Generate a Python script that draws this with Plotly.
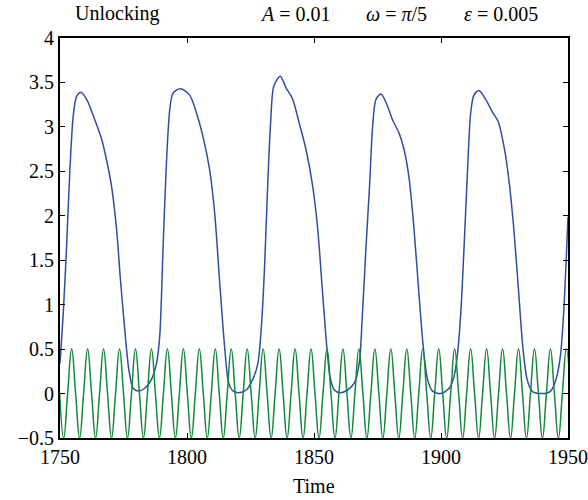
import plotly.graph_objects as go

# Blue response curve
blue_time = [1750.0, 1751.3, 1752.6, 1753.9, 1755.2, 1756.5, 1758.2, 1760.5, 1763.7, 1766.4,
             1768.3, 1770.3, 1772.3, 1773.8, 1775.5, 1777.1, 1778.8, 1780.8, 1783.4, 1786.0,
             1788.0, 1789.3, 1790.6, 1791.9, 1793.2, 1794.5, 1797.4, 1801.0, 1803.7, 1806.3,
             1808.9, 1810.9, 1812.8, 1814.8, 1816.4, 1818.1, 1820.3, 1823.3, 1825.9, 1827.9,
             1829.2, 1830.5, 1831.6, 1832.9, 1834.2, 1836.7, 1839.0, 1841.6, 1844.2, 1846.9,
             1849.5, 1851.5, 1853.0, 1854.7, 1856.3, 1858.0, 1860.4, 1863.2, 1865.9, 1867.8,
             1869.1, 1870.5, 1871.8, 1873.2, 1874.4, 1876.4, 1879.0, 1880.9, 1883.5, 1885.5,
             1887.5, 1889.4, 1891.4, 1893.0, 1894.7, 1896.6, 1899.9, 1903.2, 1905.1, 1906.4,
             1907.8, 1909.1, 1910.4, 1911.7, 1913.0, 1915.0, 1917.6, 1920.2, 1922.5, 1924.8,
             1926.7, 1928.7, 1930.7, 1932.2, 1933.9, 1935.9, 1939.8, 1943.1, 1945.3, 1947.0,
             1948.3, 1950.0]
blue_value = [0.34, 0.91, 1.66, 2.52, 3.12, 3.34, 3.39, 3.31, 3.08, 2.86,
              2.63, 2.33, 1.84, 1.28, 0.72, 0.27, 0.06, 0.03, 0.06, 0.16,
              0.34, 0.66, 1.66, 2.59, 3.19, 3.38, 3.43, 3.36, 3.16, 2.89,
              2.52, 2.03, 1.28, 0.53, 0.12, 0.03, 0.01, 0.04, 0.16, 0.34,
              0.72, 1.40, 2.22, 3.04, 3.46, 3.57, 3.44, 3.31, 3.04, 2.74,
              2.33, 1.84, 1.28, 0.64, 0.19, 0.04, 0.01, 0.04, 0.12, 0.34,
              0.91, 1.66, 2.30, 3.05, 3.31, 3.37, 3.23, 3.08, 2.93, 2.74,
              2.41, 1.84, 1.09, 0.53, 0.16, 0.03, 0.00, 0.06, 0.19, 0.42,
              0.91, 1.66, 2.48, 3.16, 3.36, 3.41, 3.31, 3.17, 3.06, 2.78,
              2.41, 1.84, 1.09, 0.53, 0.16, 0.025, 0.0, 0.025, 0.16, 0.42,
              0.91, 1.99]

# Green forcing curve: zero crossings and extrema
green_time = [1749.867, 1751.438, 1753.009, 1754.580, 1756.150, 1757.721, 1759.292, 1760.863,
              1762.434, 1764.004, 1765.575, 1767.146, 1768.717, 1770.288, 1771.858, 1773.429,
              1775.000, 1776.571, 1778.141, 1779.712, 1781.283, 1782.854, 1784.425, 1785.995,
              1787.566, 1789.137, 1790.708, 1792.279, 1793.849, 1795.420, 1796.991, 1798.562,
              1800.133, 1801.703, 1803.274, 1804.845, 1806.416, 1807.987, 1809.557, 1811.128,
              1812.699, 1814.270, 1815.841, 1817.411, 1818.982, 1820.553, 1822.124, 1823.694,
              1825.265, 1826.836, 1828.407, 1829.978, 1831.548, 1833.119, 1834.690, 1836.261,
              1837.832, 1839.402, 1840.973, 1842.544, 1844.115, 1845.686, 1847.256, 1848.827,
              1850.398, 1851.969, 1853.540, 1855.110, 1856.681, 1858.252, 1859.823, 1861.394,
              1862.964, 1864.535, 1866.106, 1867.677, 1869.248, 1870.818, 1872.389, 1873.960,
              1875.531, 1877.102, 1878.672, 1880.243, 1881.814, 1883.385, 1884.956, 1886.526,
              1888.097, 1889.668, 1891.239, 1892.810, 1894.380, 1895.951, 1897.522, 1899.093,
              1900.664, 1902.234, 1903.805, 1905.376, 1906.947, 1908.518, 1910.088, 1911.659,
              1913.230, 1914.801, 1916.372, 1917.942, 1919.513, 1921.084, 1922.655, 1924.226,
              1925.796, 1927.367, 1928.938, 1930.509, 1932.080, 1933.650, 1935.221, 1936.792,
              1938.363, 1939.934, 1941.504, 1943.075, 1944.646, 1946.217, 1947.787, 1949.358,
              1950.929]
green_value = [0, -0.5, 0, 0.5, 0, -0.5, 0, 0.5, 0, -0.5, 0, 0.5, 0, -0.5, 0, 0.5,
               0, -0.5, 0, 0.5, 0, -0.5, 0, 0.5, 0, -0.5, 0, 0.5, 0, -0.5, 0, 0.5,
               0, -0.5, 0, 0.5, 0, -0.5, 0, 0.5, 0, -0.5, 0, 0.5, 0, -0.5, 0, 0.5,
               0, -0.5, 0, 0.5, 0, -0.5, 0, 0.5, 0, -0.5, 0, 0.5, 0, -0.5, 0, 0.5,
               0, -0.5, 0, 0.5, 0, -0.5, 0, 0.5, 0, -0.5, 0, 0.5, 0, -0.5, 0, 0.5,
               0, -0.5, 0, 0.5, 0, -0.5, 0, 0.5, 0, -0.5, 0, 0.5, 0, -0.5, 0, 0.5,
               0, -0.5, 0, 0.5, 0, -0.5, 0, 0.5, 0, -0.5, 0, 0.5, 0, -0.5, 0, 0.5,
               0, -0.5, 0, 0.5, 0, -0.5, 0, 0.5, 0, -0.5, 0, 0.5, 0, -0.5, 0, 0.5,
               0]

x_ticks = [1750, 1800, 1850, 1900, 1950]
y_ticks = [-0.5, 0, 0.5, 1, 1.5, 2, 2.5, 3, 3.5, 4]
y_tick_labels = ["\u22120.5", "0", "0.5", "1", "1.5", "2", "2.5", "3", "3.5", "4"]

FONT = "Liberation Serif"
FS = 20

fig = go.Figure()
fig.add_trace(go.Scatter(x=blue_time, y=blue_value, mode="lines",
                         line=dict(color="#2c4fa3", width=1.5, shape="spline", smoothing=0.8),
                         showlegend=False, hoverinfo="skip"))
fig.add_trace(go.Scatter(x=green_time, y=green_value, mode="lines",
                         line=dict(color="#138a3c", width=1.5, shape="spline", smoothing=1.3),
                         showlegend=False, hoverinfo="skip"))

axis_common = dict(showline=True, linecolor="black", linewidth=2, mirror="allticks",
                   ticks="inside", ticklen=5, tickwidth=1.2, tickcolor="black",
                   showgrid=False, zeroline=False, automargin=False,
                   tickfont=dict(family=FONT, size=FS, color="black"))

fig.update_xaxes(range=[1750, 1950], tickvals=x_ticks, ticktext=[str(v) for v in x_ticks],
                 ticklabelstandoff=0, **axis_common)
fig.update_yaxes(range=[-0.5, 4], tickvals=y_ticks, ticktext=y_tick_labels, **axis_common)

ann_font = dict(family=FONT, size=FS, color="black")
fig.add_annotation(text="Time", xref="paper", yref="paper", x=0.5, y=-0.12,
                   xanchor="center", yanchor="middle", showarrow=False, font=ann_font)
fig.add_annotation(text="Unlocking", xref="paper", yref="paper", x=0.025, y=1.06,
                   xanchor="left", yanchor="middle", showarrow=False, font=ann_font)
fig.add_annotation(text="<i>A</i> = 0.01", xref="paper", yref="paper", x=0.390, y=1.06,
                   xanchor="left", yanchor="middle", showarrow=False, font=ann_font)
fig.add_annotation(text="<i>ω</i> = <i>π</i>/5", xref="paper", yref="paper", x=0.598, y=1.06,
                   xanchor="left", yanchor="middle", showarrow=False, font=ann_font)
fig.add_annotation(text="<i>ε</i> = 0.005", xref="paper", yref="paper", x=0.945, y=1.06,
                   xanchor="right", yanchor="middle", showarrow=False, font=ann_font)

fig.update_layout(width=588, height=500, margin=dict(l=60, r=20, t=38, b=62),
                  plot_bgcolor="white", paper_bgcolor="white",
                  font=dict(family=FONT, size=FS, color="black"))

fig.write_html("out.html")
